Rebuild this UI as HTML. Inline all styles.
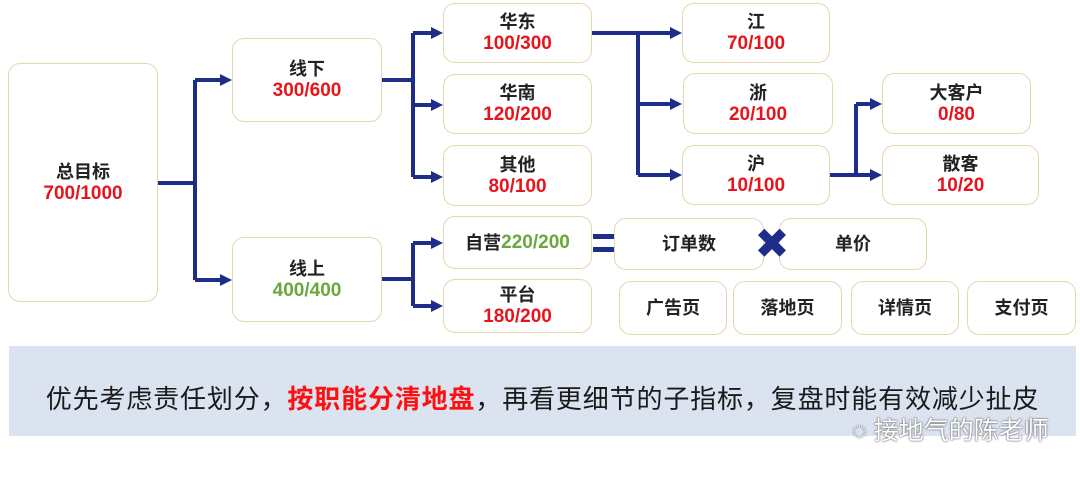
<!DOCTYPE html>
<html><head><meta charset="utf-8"><style>
body{margin:0;width:1080px;height:480px;background:#fff;position:relative;overflow:hidden;font-family:"Liberation Sans","Noto Sans CJK SC",sans-serif}
.b{position:absolute;box-sizing:border-box;border:1.5px solid #e6d6b0;border-radius:12px;background:#fff;display:flex;flex-direction:column;justify-content:center;align-items:center;font-weight:bold;font-size:18px;color:#222;line-height:22px}
.r{color:#e8141c;font-size:19px}.g{color:#6aa83c;font-size:19px}
svg{position:absolute;left:0;top:0}
</style></head><body>
<svg width="1080" height="480">
<g stroke="#1f2d8a" stroke-width="4" fill="none">
<path d="M158 183H195M195 80V280M195 80H222M195 280H222"/>
<path d="M382 80H413M413 33V177M413 33H433M413 105H433M413 177H433"/>
<path d="M382 279H413M413 243V306M413 243H433M413 306H433"/>
<path d="M592 33H672M638 33V175M638 104H672M638 175H672"/>
<path d="M830 175H856M856 104V175M856 104H872M856 175H872"/>
</g>
<g fill="#1f2d8a">
<path d="M220 74L232 80L220 86Z"/><path d="M220 274L232 280L220 286Z"/>
<path d="M431 27L443 33L431 39Z"/><path d="M431 99L443 105L431 111Z"/><path d="M431 171L443 177L431 183Z"/>
<path d="M431 237L443 243L431 249Z"/><path d="M431 300L443 306L431 312Z"/>
<path d="M670 27L682 33L670 39Z"/><path d="M670 98L682 104L670 110Z"/><path d="M670 169L682 175L670 181Z"/>
<path d="M870 98L882 104L870 110Z"/><path d="M870 169L882 175L870 181Z"/>
<rect x="593" y="234" width="27" height="5"/><rect x="593" y="247" width="27" height="5"/>
</g>
</svg>
<div class="b" style="left:8px;top:63px;width:150px;height:239px">总目标<span class="r">700/1000</span></div>
<div class="b" style="left:232px;top:38px;width:150px;height:84px">线下<span class="r">300/600</span></div>
<div class="b" style="left:232px;top:237px;width:150px;height:85px">线上<span class="g">400/400</span></div>
<div class="b" style="left:443px;top:3px;width:149px;height:60px">华东<span class="r">100/300</span></div>
<div class="b" style="left:443px;top:74px;width:149px;height:60px">华南<span class="r">120/200</span></div>
<div class="b" style="left:443px;top:145px;width:149px;height:61px">其他<span class="r">80/100</span></div>
<div class="b" style="left:443px;top:216px;width:149px;height:53px;flex-direction:row">自营<span class="g">220/200</span></div>
<div class="b" style="left:443px;top:279px;width:149px;height:54px">平台<span class="r">180/200</span></div>
<div class="b" style="left:682px;top:3px;width:148px;height:60px">江<span class="r">70/100</span></div>
<div class="b" style="left:683px;top:73px;width:150px;height:61px">浙<span class="r">20/100</span></div>
<div class="b" style="left:682px;top:145px;width:148px;height:60px">沪<span class="r">10/100</span></div>
<div class="b" style="left:882px;top:73px;width:149px;height:61px">大客户<span class="r">0/80</span></div>
<div class="b" style="left:882px;top:145px;width:157px;height:60px">散客<span class="r">10/20</span></div>
<div class="b" style="left:614px;top:218px;width:150px;height:52px">订单数</div>
<div class="b" style="left:779px;top:218px;width:148px;height:52px">单价</div>
<div style="position:absolute;left:752px;top:222px;width:40px;height:44px;color:#1f2d8a;font-size:42px;line-height:44px;text-align:center;font-family:'DejaVu Sans',sans-serif">✖</div>
<div class="b" style="left:619px;top:281px;width:108px;height:54px">广告页</div>
<div class="b" style="left:733px;top:281px;width:109px;height:54px">落地页</div>
<div class="b" style="left:851px;top:281px;width:108px;height:54px">详情页</div>
<div class="b" style="left:967px;top:281px;width:109px;height:54px">支付页</div>
<div style="position:absolute;left:9px;top:346px;width:1067px;height:90px;background:#dbe3f0"></div>
<div style="position:absolute;left:0;top:382px;width:1085px;text-align:center;font-size:26px;line-height:34px;color:#1a1a1a;letter-spacing:0.85px;white-space:nowrap">优先考虑责任划分，<b style="color:#ff1010">按职能分清地盘</b>，再看更细节的子指标，复盘时能有效减少扯皮</div>
<div style="position:absolute;left:852px;top:414px;font-size:25px;line-height:34px;color:#fff;text-shadow:0 0 2px #666,0 0 1px #444;white-space:nowrap">◌ 接地气的陈老师</div>
</body></html>
